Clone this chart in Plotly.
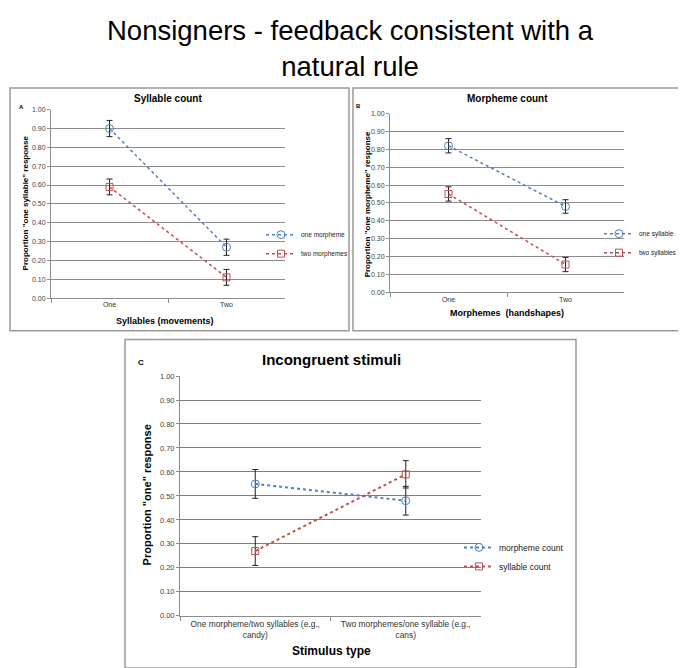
import plotly.graph_objects as go

W, H = 686, 668

# ---- data ----
cats_A = ["One", "Two"]
a_one_morpheme = [0.90, 0.27]
a_one_morpheme_err = [0.043, 0.043]
a_two_morphemes = [0.59, 0.11]
a_two_morphemes_err = [0.042, 0.042]

cats_B = ["One", "Two"]
b_one_syllable = [0.82, 0.48]
b_one_syllable_err = [0.04, 0.038]
b_two_syllables = [0.55, 0.155]
b_two_syllables_err = [0.04, 0.04]

cats_C = ["One morpheme/two syllables (e.g.,<br>candy)", "Two morphemes/one syllable (e.g.,<br>cans)"]
c_morpheme_count = [0.55, 0.48]
c_morpheme_count_err = [0.06, 0.06]
c_syllable_count = [0.27, 0.59]
c_syllable_count_err = [0.06, 0.057]

y_ticks = [0.0, 0.1, 0.2, 0.3, 0.4, 0.5, 0.6, 0.7, 0.8, 0.9, 1.0]

BLUE = "#4F81BD"
RED = "#C0504D"
FONT = "Arial, Liberation Sans, Helvetica, sans-serif"


def X(px):
    return px / W


def Y(py):
    return 1 - py / H


fig = go.Figure()


def add_series(x, y, err, name, color, symbol, xa, ya, legend, msize, lw):
    fig.add_trace(go.Scatter(
        x=x, y=y, name=name, mode="lines+markers",
        xaxis=xa, yaxis=ya, legend=legend,
        line=dict(color=color, width=lw, dash="dot"),
        marker=dict(symbol=symbol, size=msize, color="rgba(255,255,255,0)",
                    line=dict(color=color, width=1)),
        error_y=dict(type="data", array=err, visible=True, color="#222222",
                     thickness=1, width=3),
    ))


add_series(cats_A, a_one_morpheme, a_one_morpheme_err, "one morpheme", BLUE, "circle", "x", "y", "legend", 8, 1.5)
add_series(cats_A, a_two_morphemes, a_two_morphemes_err, "two morphemes", RED, "square", "x", "y", "legend", 7, 1.5)
add_series(cats_B, b_one_syllable, b_one_syllable_err, "one syllable", BLUE, "circle", "x2", "y2", "legend2", 8, 1.5)
add_series(cats_B, b_two_syllables, b_two_syllables_err, "two syllables", RED, "square", "x2", "y2", "legend2", 7, 1.5)
add_series(cats_C, c_morpheme_count, c_morpheme_count_err, "morpheme count", BLUE, "circle", "x3", "y3", "legend3", 8, 2)
add_series(cats_C, c_syllable_count, c_syllable_count_err, "syllable count", RED, "square", "x3", "y3", "legend3", 7, 2)


def xax(domain, anchor, size):
    return dict(domain=domain, anchor=anchor, type="category", range=[-0.5, 1.5],
                showgrid=False, zeroline=False, showline=True, linecolor="#8c8c8c",
                linewidth=1, ticks="outside", tickson="boundaries", ticklen=4,
                tickcolor="#8c8c8c", tickfont=dict(family=FONT, size=size, color="#333"),
                fixedrange=True)


def yax(domain, anchor, size, gridcolor):
    return dict(domain=domain, anchor=anchor, range=[0, 1.0001], tickvals=y_ticks,
                tickformat=".2f", showgrid=True, gridcolor=gridcolor, gridwidth=1,
                zeroline=False, showline=True, linecolor="#8c8c8c", linewidth=1,
                ticks="outside", ticklen=3, tickcolor="#8c8c8c",
                tickfont=dict(family=FONT, size=size, color="#444"), fixedrange=True)


def leg(x, y, size):
    return dict(x=X(x), y=Y(y), xanchor="left", yanchor="top",
                font=dict(family=FONT, size=size, color="#222"), bgcolor="rgba(0,0,0,0)",
                itemwidth=30, tracegroupgap=0)


layout = dict(
    width=W, height=H, autosize=False,
    margin=dict(l=0, r=0, t=0, b=0),
    paper_bgcolor="white", plot_bgcolor="white",
    font=dict(family=FONT, color="#000"),
    xaxis=xax([X(43), X(277)], "y", 7),
    yaxis=yax([Y(290), Y(99)], "x", 7, "#8c8c8c"),
    xaxis2=xax([X(382), X(616)], "y2", 7),
    yaxis2=yax([Y(284), Y(103)], "x2", 7, "#8c8c8c"),
    xaxis3=xax([X(172), X(473)], "y3", 8.4),
    yaxis3=yax([Y(612), Y(369)], "x3", 7.5, "#7f7f7f"),
    legend=leg(253, 211, 6.5),
    legend2=leg(591, 210, 6.5),
    legend3=leg(451, 528, 8.5),
    showlegend=True,
)
fig.update_layout(**layout)

# panel borders
for (x0, y0, x1, y1) in [(2, 77, 341, 323), (345, 77, 683, 323), (117, 332, 568, 665)]:
    fig.add_shape(type="rect", xref="paper", yref="paper",
                  x0=X(x0), x1=X(x1), y0=Y(y1), y1=Y(y0),
                  line=dict(color="#9a9a9a", width=1.5), fillcolor="rgba(0,0,0,0)", layer="below")


def ann(text, x, y, size, bold=False, angle=0, color="#000", xanchor="center"):
    fig.add_annotation(text=("<b>%s</b>" % text) if bold else text, x=X(x), y=Y(y),
                       xref="paper", yref="paper", showarrow=False, textangle=angle,
                       xanchor=xanchor, yanchor="middle",
                       font=dict(family=FONT, size=size, color=color))


# main title
ann("Nonsigners - feedback consistent with a<br>natural rule", 342, 37, 27.5)

# panel A
ann("Syllable count", 160, 88, 10, bold=True)
ann("A", 14, 96, 6, bold=True)
ann('Proportion "one syllable" response', 17, 194, 8, bold=True, angle=-90)
ann("Syllables (movements)", 157, 313, 9, bold=True)

# panel B
ann("Morpheme count", 500, 88, 10, bold=True)
ann("B", 351, 95, 6, bold=True)
ann('Proportion "one morpheme" response', 359, 195, 8, bold=True, angle=-90)
ann("Morphemes  (handshapes)", 499, 305, 9, bold=True)

# panel C
ann("Incongruent stimuli", 323, 352, 15, bold=True)
ann("C", 133, 355, 8, bold=True)
ann('Proportion "one" response', 139, 490, 11, bold=True, angle=-90)
ann("Stimulus type", 323, 648, 12, bold=True)

fig.write_html("out.html")
